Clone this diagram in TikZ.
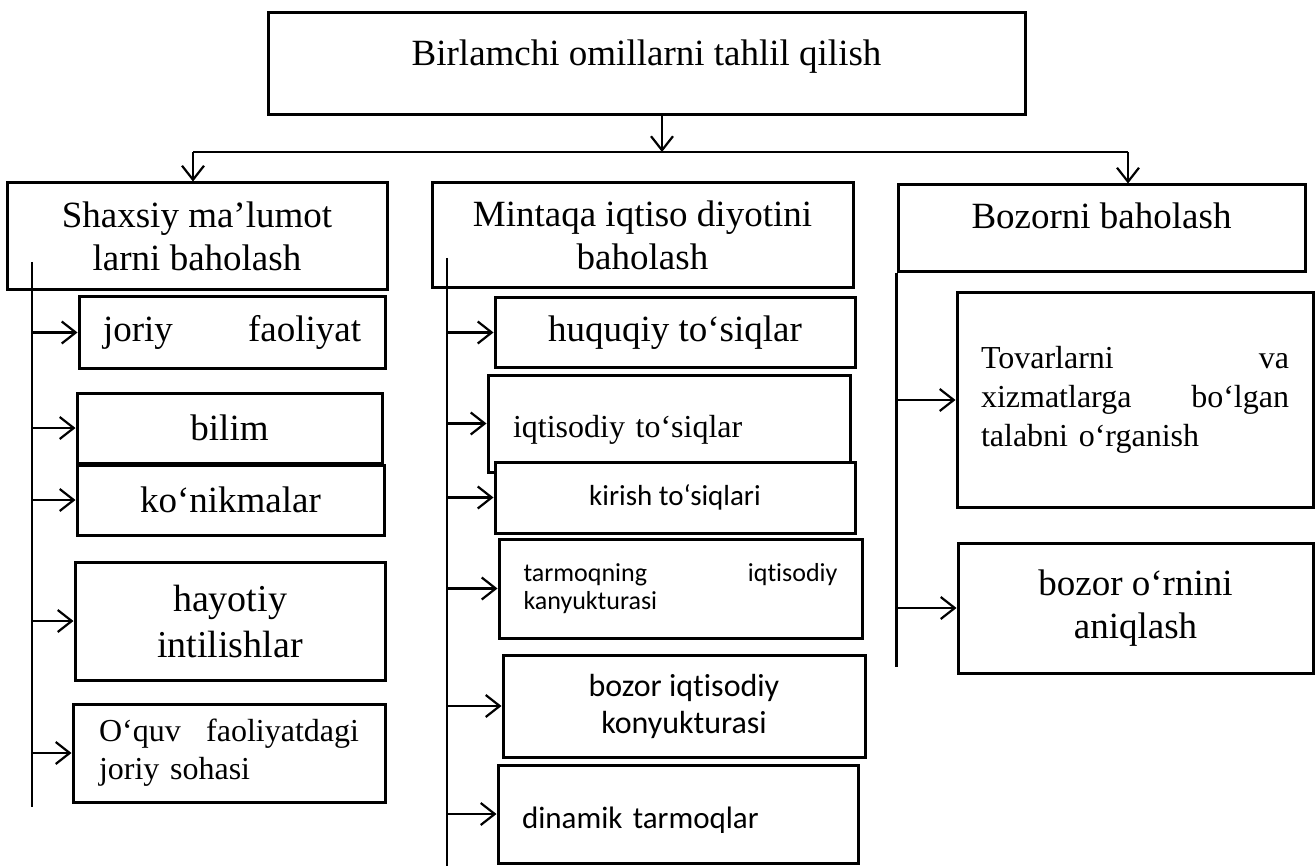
\documentclass[tikz,border=0pt]{standalone}
\usepackage{fontspec}
\setmainfont{Liberation Serif}
\newfontfamily\altsans[Ligatures=NoCommon]{Carlito}
\usepackage{tikz}
\usetikzlibrary{arrows.meta}
\tikzstyle{box}=[draw=black, line width=3pt, rectangle, fill=white, inner sep=0pt]
\tikzstyle{arrow}=[draw=black, line width=2.2pt, -{Straight Barb[length=14pt,width=22pt]}]
\tikzstyle{trunk}=[draw=black, line width=2.6pt]
\tikzstyle{big}=[font=\fontsize{37}{43}\selectfont]
\tikzstyle{mid}=[font=\fontsize{32}{38}\selectfont]
\tikzstyle{sans}=[font=\altsans\fontsize{31}{36}\selectfont]

\begin{document}
\begin{tikzpicture}[x=1pt, y=-1pt]
		   \useasboundingbox (0,0) rectangle (1316,866);
		   \begin{scope}
			   \node (t) at (646.5, 64)[box, font=\fontsize{37}{42}\selectfont, minimum width=757pt, minimum height=102pt, text height=24pt, text depth=20pt] {Birlamchi omillarni tahlil qilish};

			   \node (h1) at (197, 236.5)[box, big, minimum width=380pt, minimum height=107pt, align=center] {Shaxsiy ma’lumot\\larni baholash};
			   \node (h2) at (642.5, 235.5)[box, big, minimum width=421pt, minimum height=105pt, align=center] {Mintaqa iqtiso diyotini\\baholash};
			   \node (h3) at (1101.5, 228.5)[box, big, minimum width=407pt, minimum height=87pt, text height=20pt, text depth=20pt] {Bozorni baholash};

			   \node (a1) at (232, 332.5)[box, big, minimum width=306pt, minimum height=71pt, text width=258pt, align=left] {joriy \hfill faoliyat};
			   \node (a2) at (229.5, 428)[box, big, minimum width=305pt, minimum height=70pt] {bilim};
			   \node (a3) at (230.5, 500)[box, big, minimum width=307pt, minimum height=70pt] {ko‘nikmalar};
			   \node (a4) at (230, 621)[box, font=\fontsize{38}{46}\selectfont, minimum width=310pt, minimum height=118pt, align=center] {hayotiy\\intilishlar};
			   \node (a5) at (229, 753)[box, mid, minimum width=312pt, minimum height=98pt, text width=260pt, align=left] {O‘quv \hfill faoliyatdagi\\joriy sohasi};

			   \node (b1) at (675, 332.5)[box, big, minimum width=360pt, minimum height=69pt] {huquqiy to‘siqlar};
			   \node (b2) at (669, 423.5)[box, mid, minimum width=362pt, minimum height=97pt, text width=312pt, align=left, text height=33pt, text depth=6pt] {iqtisodiy to‘siqlar};
			   \node (b3) at (675, 497.5)[box, font=\altsans\fontsize{29}{34}\selectfont, minimum width=360pt, minimum height=71pt] {kirish to‘siqlari};
			   \node (b4) at (680.5, 588.5)[box, font=\altsans\fontsize{26}{28}\selectfont, minimum width=363pt, minimum height=99pt, text width=314pt, align=left] {tarmoqning \hfill iqtisodiy\\kanyukturasi};
			   \node (b5) at (684, 706)[box, font=\altsans\fontsize{32}{37}\selectfont, minimum width=362pt, minimum height=102pt, align=center] {bozor iqtisodiy\\konyukturasi};
			   \node (b6) at (678, 814)[box, sans, minimum width=360pt, minimum height=98pt, text width=312pt, align=left, text height=34pt, text depth=6pt] {dinamik tarmoqlar};

			   \node (c1) at (1135, 400)[box, font=\fontsize{32}{39}\selectfont, minimum width=356pt, minimum height=214pt, text width=308pt, align=left] {Tovarlarni \hfill va\\xizmatlarga \hfill bo‘lgan\\talabni o‘rganish};
			   \node (c2) at (1135.5, 608)[box, big, minimum width=355pt, minimum height=130pt, align=center] {bozor o‘rnini\\aniqlash};

			   \coordinate (f) at (662, 152);
			   \coordinate (l) at (193, 152);
			   \coordinate (r) at (1128, 152);
			   \coordinate (pa) at (32, 262);
			   \coordinate (pb) at (32, 807);
			   \coordinate (qa) at (447, 258);
			   \coordinate (qb) at (447, 866);
			   \coordinate (rb) at (h3.south west |- 0, 667);
		   \end{scope}
		   \begin{scope}
			   \path (t.south -| f) edge [arrow] (f);
			   \path [trunk] (l) edge (r);
			   \path (l) edge [arrow] (l |- h1.north);
			   \path (r) edge [arrow] (r |- h3.north);

			   \path [trunk] (pa) edge (pb);
			   \path (pa |- a1.west) edge [arrow] (a1.west);
			   \path (pa |- a2.west) edge [arrow] (a2.west);
			   \path (pa |- a3.west) edge [arrow] (a3.west);
			   \path (pa |- a4.west) edge [arrow] (a4.west);
			   \path (pa |- a5.west) edge [arrow] (a5.west);

			   \path [trunk] (qa) edge (qb);
			   \path (qa |- b1.west) edge [arrow] (b1.west);
			   \path (qa |- b2.west) edge [arrow] (b2.west);
			   \path (qa |- b3.west) edge [arrow] (b3.west);
			   \path (qa |- b4.west) edge [arrow] (b4.west);
			   \path (qa |- b5.west) edge [arrow] (b5.west);
			   \path (qa |- b6.west) edge [arrow] (b6.west);

			   \path [trunk] (h3.south west) edge (rb);
			   \path (rb |- c1.west) edge [arrow] (c1.west);
			   \path (rb |- c2.west) edge [arrow] (c2.west);
		   \end{scope}
\end{tikzpicture}
\end{document}
